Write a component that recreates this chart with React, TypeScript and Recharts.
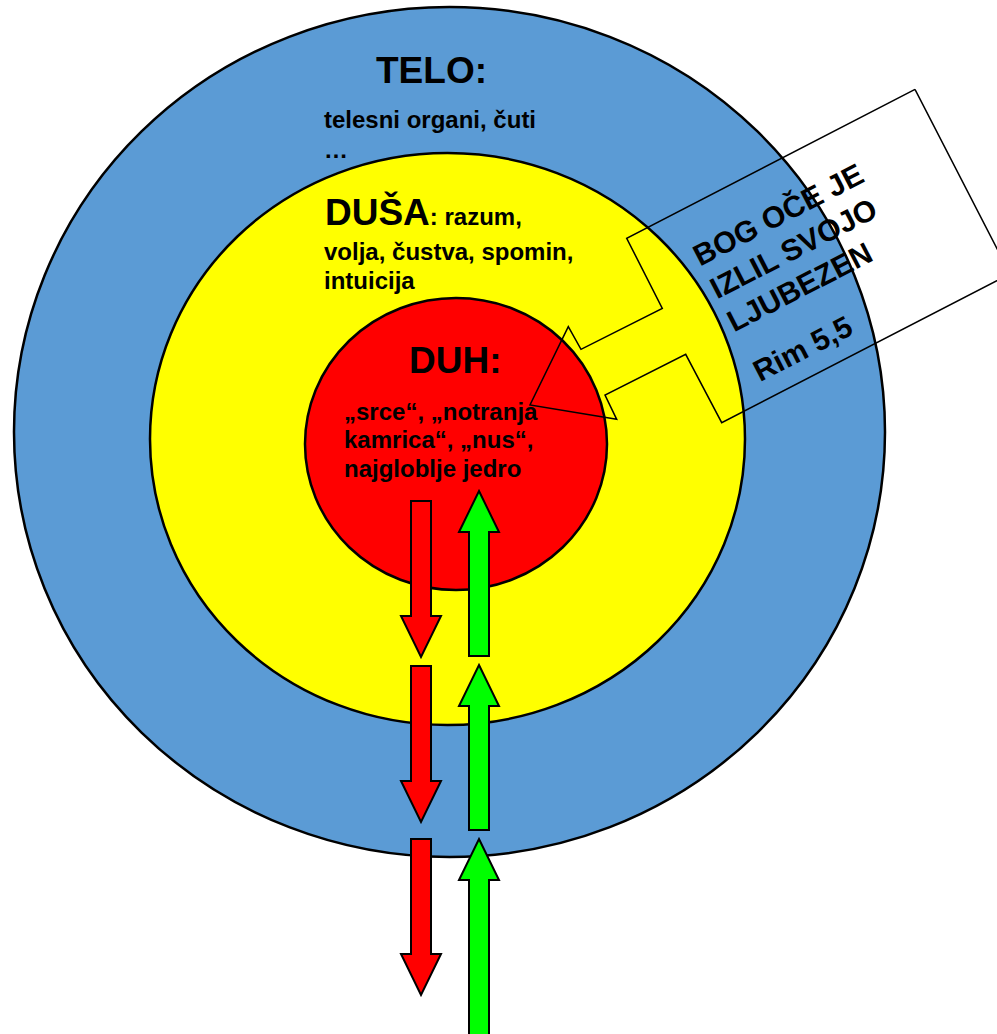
import { ScatterChart, Scatter, XAxis, YAxis, ReferenceArea } from 'recharts';

const W = 997;
const H = 1034;

// three rings (centre + radii, in picture units), outermost first
const ringNames = ['TELO', 'DUŠA', 'DUH'];
const ringCx = [449.5, 447.5, 456];
const ringCy = [432, 439, 444];
const ringRx = [435.5, 297.5, 151];
const ringRy = [425, 286, 146];
const ringColors = ['#5B9BD5', '#FFFF00', '#FF0000'];

// red arrows going out (tail -> tip, downwards)
const downArrowX = [421, 421, 421];
const downArrowTail = [501, 666, 839];
const downArrowTip = [657, 822, 995];

// green arrows coming in (tail -> tip, upwards)
const upArrowX = [479, 479, 479];
const upArrowTail = [656, 830, 1048];
const upArrowTip = [491, 665, 839];

// callout outline, closed
const calloutX = [915, 1010, 721.7, 685.7, 605, 616.7, 530, 568.3, 581, 662.3, 626.7, 915];
const calloutY = [89.3, 274, 422.7, 354.3, 395, 419.3, 405, 326.7, 349.3, 308.3, 238.3, 89.3];

// ring labels: big title + normal body text
const labelX = [376, 324, 324, 325, 324, 324, 409, 344, 344, 344];
const labelY = [83, 128, 158, 225, 260, 289, 373, 420, 448, 477];
const labelTitle = ['TELO:', '', '', 'DUŠA', '', '', 'DUH:', '', '', ''];
const labelBody = ['', 'telesni organi, čuti', '…', ': razum,', 'volja, čustva, spomin,', 'intuicija', '', '„srce“, „notranja', 'kamrica“, „nus“,', 'najgloblje jedro'];

// callout text lines (left end of baseline)
const calloutTextX = [700, 717, 734, 760];
const calloutTextY = [266.7, 299.6, 332.5, 382.3];
const calloutText = ['BOG OČE JE', 'IZLIL SVOJO', 'LJUBEZEN', 'Rim 5,5'];

const FONT = '"Liberation Sans", Arial, sans-serif';
const HEAD_LEN = 41;
const HEAD_W = 40;
const SHAFT_W = 20;
const CALLOUT_ANGLE = -27.3;

const ellipseShape = (fill: string) => (props: any) => (
  <ellipse
    cx={props.x + props.width / 2}
    cy={props.y + props.height / 2}
    rx={props.width / 2}
    ry={props.height / 2}
    fill={fill}
    stroke="#000"
    strokeWidth={2.5}
  />
);

const arrowShape = (pointsUp: boolean, len: number, fill: string) => (props: any) => {
  const { x, y, width, height } = props;
  const cx = x + width / 2;
  const half = (width * SHAFT_W) / HEAD_W / 2;
  const head = (height * HEAD_LEN) / len;
  const top = y;
  const bot = y + height;
  const pts = pointsUp
    ? [
        [cx, top], [x + width, top + head], [cx + half, top + head], [cx + half, bot],
        [cx - half, bot], [cx - half, top + head], [x, top + head],
      ]
    : [
        [cx - half, top], [cx + half, top], [cx + half, bot - head], [x + width, bot - head],
        [cx, bot], [x, bot - head], [cx - half, bot - head],
      ];
  return (
    <polygon
      points={pts.map((p) => p.join(',')).join(' ')}
      fill={fill}
      stroke="#000"
      strokeWidth={2}
    />
  );
};

const renderLabel = (props: any) => {
  const { cx, cy, payload } = props;
  return (
    <text x={cx} y={cy} fontFamily={FONT} fontWeight="bold" fill="#000">
      {payload.title ? <tspan fontSize={37}>{payload.title}</tspan> : null}
      {payload.body ? <tspan fontSize={24}>{payload.body}</tspan> : null}
    </text>
  );
};

const renderCalloutText = (props: any) => {
  const { cx, cy, payload } = props;
  return (
    <text
      x={cx}
      y={cy}
      fontFamily={FONT}
      fontWeight="bold"
      fontSize={30}
      fill="#000"
      transform={`rotate(${CALLOUT_ANGLE} ${cx} ${cy})`}
    >
      {payload.text}
    </text>
  );
};

export default function App() {
  const labels = labelX.map((x, i) => ({ x, y: labelY[i], title: labelTitle[i], body: labelBody[i] }));
  const callout = calloutX.map((x, i) => ({ x, y: calloutY[i] }));
  const calloutLines = calloutTextX.map((x, i) => ({ x, y: calloutTextY[i], text: calloutText[i] }));

  return (
    <div style={{ position: 'absolute', left: 0, top: 0, width: W, height: H, background: '#fff' }}>
      <ScatterChart width={W} height={H} margin={{ top: 0, right: 0, bottom: 0, left: 0 }}>
        <XAxis type="number" dataKey="x" domain={[0, W]} hide allowDataOverflow />
        <YAxis type="number" dataKey="y" domain={[0, H]} reversed hide allowDataOverflow />

        {ringNames.map((name, i) => (
          <ReferenceArea
            key={name}
            x1={ringCx[i] - ringRx[i]}
            x2={ringCx[i] + ringRx[i]}
            y1={ringCy[i] - ringRy[i]}
            y2={ringCy[i] + ringRy[i]}
            ifOverflow="visible"
            shape={ellipseShape(ringColors[i])}
          />
        ))}

        {downArrowX.map((x, i) => (
          <ReferenceArea
            key={'down' + i}
            x1={x - HEAD_W / 2}
            x2={x + HEAD_W / 2}
            y1={downArrowTail[i]}
            y2={downArrowTip[i]}
            ifOverflow="visible"
            shape={arrowShape(false, downArrowTip[i] - downArrowTail[i], '#FF0000')}
          />
        ))}
        {upArrowX.map((x, i) => (
          <ReferenceArea
            key={'up' + i}
            x1={x - HEAD_W / 2}
            x2={x + HEAD_W / 2}
            y1={upArrowTip[i]}
            y2={upArrowTail[i]}
            ifOverflow="visible"
            shape={arrowShape(true, upArrowTail[i] - upArrowTip[i], '#00FF00')}
          />
        ))}

        <Scatter data={labels} shape={renderLabel} isAnimationActive={false} />
        <Scatter
          data={callout}
          fill="none"
          stroke="#000"
          line={{ stroke: '#000', strokeWidth: 1.5, fill: 'none' }}
          lineJointType="linear"
          shape={() => <g />}
          isAnimationActive={false}
        />
        <Scatter data={calloutLines} shape={renderCalloutText} isAnimationActive={false} />
      </ScatterChart>
    </div>
  );
}
